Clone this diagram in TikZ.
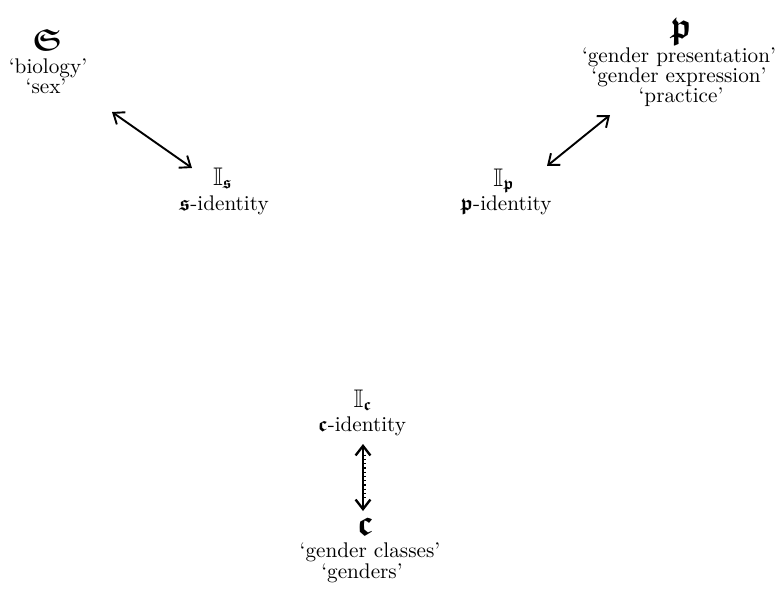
\documentclass[tikz,border=0pt]{standalone}
\usepackage{amsmath}
\usepackage{amssymb}
\usetikzlibrary{arrows.meta}
\newcommand{\gth}[1]{\ensuremath{\boldsymbol{\mathfrak{#1}}}}
\begin{document}
\begin{tikzpicture}[x=0.4717pt,y=-0.4717pt,
  lbl/.style={anchor=base,inner sep=0pt,font=\normalsize},
  idn/.style={anchor=base,inner sep=0pt,font=\large},
  sym/.style={anchor=base,inner sep=0pt,font=\LARGE},
  dblarrow/.style={{Straight Barb[length=4.5pt,width=7pt]}-{Straight Barb[length=4.5pt,width=7pt]}, line width=0.9pt}]
\useasboundingbox (0,0) rectangle (775,594);

% s group
\node[sym,font=\Large] (S) at (47,50) {\gth{S}};
\node[lbl] (bio) at (48,74) {`biology'};
\node[lbl] (sex) at (46,93) {`sex'};
\node[idn] (Is) at (223,185) {$\mathbb{I}_{\gth{s}}$};
\node[lbl] (sid) at (224,210) {\gth{s}-identity};

% p group
\node[sym] (P) at (681,38) {\gth{p}};
\node[lbl] (gp) at (679,62) {`gender presentation'};
\node[lbl] (ge) at (679,82) {`gender expression'};
\node[lbl] (pr) at (681,102) {`practice'};
\node[idn] (Ip) at (504,186) {$\mathbb{I}_{\gth{p}}$};
\node[lbl] (pid) at (506,210) {\gth{p}-identity};

% c group
\node[idn] (Ic) at (363,407) {$\mathbb{I}_{\gth{c}}$};
\node[lbl] (cid) at (362,431) {\gth{c}-identity};
\node[sym] (C) at (365,535) {\gth{c}};
\node[lbl] (gc) at (370,557) {`gender classes'};
\node[lbl] (gs) at (362,578) {`genders'};

% connectors
\coordinate (sa) at (112,112);
\coordinate (sb) at (192,168);
\coordinate (pa) at (610,115);
\coordinate (pb) at (547,166);
\coordinate (ca) at (363,444);
\coordinate (cb) at (363,511);
\draw[dblarrow] (sa) -- (sb);
\draw[dblarrow] (pa) -- (pb);
\draw[dblarrow, line width=1.1pt,
  postaction={draw,-,line width=0.7pt,dash pattern=on 0.6pt off 1.4pt,
    shorten <=5pt, shorten >=5pt, transform canvas={xshift=0.9pt}}] (ca) -- (cb);
\end{tikzpicture}
\end{document}
